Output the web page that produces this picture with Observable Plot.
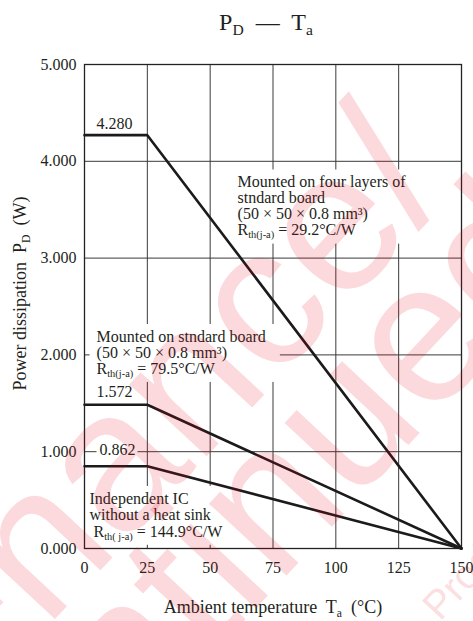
<!DOCTYPE html>
<html>
<head>
<meta charset="utf-8">
<script src="https://cdn.jsdelivr.net/npm/d3@7"></script>
<script src="https://cdn.jsdelivr.net/npm/@observablehq/plot@0.6"></script>
<style>
  html, body { margin: 0; padding: 0; background: #fff; }
  #wrap { position: relative; width: 473px; height: 621px; overflow: hidden; }
  #chart svg, #chart svg text { font-family: "Liberation Serif", "Times New Roman", serif !important; }
  #wm { position: absolute; left: 0; top: 0; pointer-events: none; }
  #wm text { font-family: "Liberation Sans", Arial, sans-serif; }
</style>
</head>
<body>
<div id="wrap"><div id="chart"></div></div>
<script>
// ---- data ----
const xTicks = [0, 25, 50, 75, 100, 125, 150];
const yTicks = [0, 1, 2, 3, 4, 5];
const temperature = [0, 25, 150];
const fourLayers = [4.27, 4.27, 0];
const standardBoard = [1.485, 1.485, 0];
const noHeatSink = [0.85, 0.85, 0];
const peakLabels = ["4.280", "1.572", "0.862"];

const titleText = "P{D}  —  T{a}";
const xLabel = "Ambient temperature  T{a}  (°C)";
const yLabel = "Power dissipation  P{D}  (W)";
const noteFour = "Mounted on four layers of\nstndard board\n(50 × 50 × 0.8 mm³)\nR{th(j-a)} = 29.2°C/W";
const noteStd = "Mounted on stndard board\n(50 × 50 × 0.8 mm³)\nR{th(j-a)} = 79.5°C/W";
const noteIC = "Independent IC\nwithout a heat sink\n R{th( j-a)} = 144.9°C/W";
const watermark = ["Maintenance/", "Discontinued", "Product"];

const series = [
  {name: "four", values: fourLayers},
  {name: "std", values: standardBoard},
  {name: "ic", values: noHeatSink}
];
const rows = series.flatMap(s => temperature.map((t, i) => ({series: s.name, Ta: t, Pd: s.values[i]})));

const ink = "#231f20";
const noteStyle = {text: d => d, textAnchor: "start", lineAnchor: "top", fontSize: 16, fill: ink};

const chart = Plot.plot({
  width: 473,
  height: 621,
  marginTop: 64,
  marginBottom: 73,
  marginLeft: 84,
  marginRight: 12,
  style: {fontFamily: "Liberation Serif", fontSize: "16px", color: ink, background: "transparent"},
  x: {domain: [0, 150], ticks: xTicks, label: null, tickSize: 0, tickPadding: 13},
  y: {domain: [0, 5], ticks: yTicks, tickFormat: d3.format(".3f"), label: null, tickSize: 0, tickPadding: 8},
  marks: [
    Plot.gridX(xTicks, {stroke: "#3a3a3a", strokeOpacity: 1, strokeWidth: 1}),
    Plot.gridY(yTicks, {stroke: "#3a3a3a", strokeOpacity: 1, strokeWidth: 1}),
    Plot.text([noteFour], {...noteStyle, x: 60.9, y: 3.847, lineHeight: 1.0, ariaDescription: "boxed"}),
    Plot.text([noteStd], {...noteStyle, x: 4.8, y: 2.249, lineHeight: 0.99, ariaDescription: "boxed"}),
    Plot.text([noteIC], {...noteStyle, x: 2.0, y: 0.58, lineHeight: 1.02, ariaDescription: "boxed"}),
    Plot.text([peakLabels[0]], {...noteStyle, x: 4.78, y: 4.449, ariaDescription: "tight"}),
    Plot.text([peakLabels[1]], {...noteStyle, x: 4.78, y: 1.681, ariaDescription: "tight"}),
    Plot.text([peakLabels[2]], {...noteStyle, x: 5.97, y: 1.079, ariaDescription: "tight"}),
    Plot.frame({stroke: "#222", strokeWidth: 1.3}),
    Plot.line(rows, {x: "Ta", y: "Pd", z: "series", stroke: "#1c1a1a", strokeWidth: 2.6, strokeLinejoin: "miter"}),
    Plot.text([titleText], {text: d => d, frameAnchor: "top", lineAnchor: "middle", dy: -42, dx: -7, fontSize: 24, fill: ink}),
    Plot.text([xLabel], {text: d => d, frameAnchor: "bottom", lineAnchor: "middle", dy: 59, fontSize: 18, fill: ink}),
    Plot.text([yLabel], {text: d => d, frameAnchor: "left", textAnchor: "middle", lineAnchor: "middle", rotate: -90, dx: -64, dy: -13, fontSize: 18, fill: ink})
  ]
});

document.getElementById("chart").appendChild(chart);

// subscripts written as {..}
const NS = "http://www.w3.org/2000/svg";
function subscriptify(el) {
  const s = el.textContent;
  if (!s.includes("{")) return;
  const fs = parseFloat(getComputedStyle(el).fontSize) || 16;
  el.textContent = "";
  s.split(/(\{[^}]*\})/).forEach(part => {
    if (!part) return;
    const ts = document.createElementNS(NS, "tspan");
    if (part.startsWith("{")) {
      ts.textContent = part.slice(1, -1);
      ts.setAttribute("font-size", (fs * 0.65).toFixed(1));
      ts.setAttribute("baseline-shift", (-fs * 0.2).toFixed(1));
    } else ts.textContent = part;
    el.appendChild(ts);
  });
}
chart.querySelectorAll("text").forEach(t => {
  const spans = t.querySelectorAll("tspan");
  if (spans.length) spans.forEach(subscriptify); else subscriptify(t);
});

// white boxes behind the notes (as in the reference)
function box(label, pad) {
  chart.querySelectorAll(`g[aria-description="${label}"] text`).forEach(t => {
    const b = t.getBBox();
    const r = document.createElementNS(NS, "rect");
    r.setAttribute("x", b.x - pad[0]);
    r.setAttribute("y", b.y - pad[1]);
    r.setAttribute("width", b.width + pad[0] + pad[2]);
    r.setAttribute("height", b.height + pad[1] + pad[3]);
    r.setAttribute("fill", "#fff");
    r.setAttribute("stroke", "none");
    if (t.getAttribute("transform")) r.setAttribute("transform", t.getAttribute("transform"));
    t.parentNode.insertBefore(r, t);
  });
}
box("boxed", [7, 4, 14, 2]);
box("tight", [3, -1, 2, -3]);

// watermark overlay
const wm = d3.select("#wrap").append("svg").attr("id", "wm").attr("width", 473).attr("height", 621);
const g = wm.append("g").attr("fill", "#e60012").attr("fill-opacity", 0.15);
g.append("text").attr("transform", "translate(455,190) rotate(-47)").attr("text-anchor", "end").attr("font-size", 200).text(watermark[0]);
g.append("text").attr("transform", "translate(-208,1106) rotate(-47)").attr("text-anchor", "start").attr("font-size", 200).text(watermark[1]);
g.append("text").attr("transform", "translate(440,622) rotate(-47)").attr("font-size", 40).text(watermark[2]);
</script>
</body>
</html>
